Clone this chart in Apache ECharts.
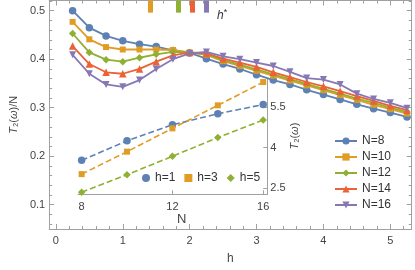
<!DOCTYPE html>
<html><head><meta charset="utf-8">
<script src="https://cdn.jsdelivr.net/npm/echarts@6/dist/echarts.min.js"></script>
<style>html,body{margin:0;padding:0;background:#fff}#c{width:415px;height:270px}</style>
</head><body><div id="c"></div>
<script>
// ---- data ----
const hValues = [0.25,0.5,0.75,1,1.25,1.5,1.75,2,2.25,2.5,2.75,3,3.25,3.5,3.75,4,4.25,4.5,4.75,5,5.25];
const N8  = [0.500,0.465,0.448,0.438,0.431,0.426,0.418,0.413,0.401,0.390,0.380,0.368,0.357,0.348,0.337,0.327,0.317,0.307,0.298,0.290,0.281];
const N10 = [0.477,0.441,0.425,0.420,0.420,0.420,0.419,0.414,0.409,0.396,0.386,0.376,0.366,0.356,0.346,0.336,0.326,0.316,0.306,0.297,0.288];
const N12 = [0.453,0.414,0.399,0.395,0.403,0.410,0.415,0.414,0.410,0.398,0.389,0.379,0.369,0.359,0.349,0.339,0.329,0.319,0.310,0.300,0.291];
const N14 = [0.427,0.390,0.373,0.370,0.380,0.395,0.408,0.414,0.412,0.401,0.393,0.384,0.373,0.363,0.353,0.344,0.334,0.324,0.314,0.304,0.295];
const N16 = [0.409,0.370,0.348,0.343,0.357,0.380,0.400,0.412,0.415,0.406,0.400,0.393,0.386,0.374,0.361,0.358,0.348,0.329,0.318,0.310,0.299];
const seriesNames = ['N=8','N=10','N=12','N=14','N=16'];
const hStar = [null, 1.41, 1.83, 2.04, 2.25];

const insetN = [8,10,12,14,16];
const T2h1 = [3.53,4.25,4.84,5.25,5.59];
const T2h3 = [3.02,3.85,4.71,5.56,6.42];
const T2h5 = [2.35,3.00,3.68,4.37,5.02];
const insetNames = ['h=1','h=3','h=5'];

const xMajor = [0,1,2,3,4,5];
const xMinor = [0.2,0.4,0.6,0.8,1.2,1.4,1.6,1.8,2.2,2.4,2.6,2.8,3.2,3.4,3.6,3.8,4.2,4.4,4.6,4.8,5.2];
const yMajor = [0.1,0.2,0.3,0.4,0.5];
const yMinor = [0.06,0.08,0.12,0.14,0.16,0.18,0.22,0.24,0.26,0.28,0.32,0.34,0.36,0.38,0.42,0.44,0.46,0.48,0.52];
const insetXTicks = [8,12,16];
const insetYTicks = [2.5,4,5.5];

// ---- style ----
const colors = ['#5E81B5','#E19C24','#8FB032','#EB6235','#8778B3'];
const symbols = ['circle','rect','diamond','triangle','triangle'];
const symRot = [0,0,0,0,180];
const symSize = [7.5,6,7.5,7.5,7];
const frame = '#a0a0a0';
const txt = '#444';
const font = 'Liberation Sans, Arial, sans-serif';

function axisPair(kind, pos, major, minor, withLabel, extra) {
  const base = {gridIndex:0, type:'value', position:pos, splitLine:{show:false}};
  Object.assign(base, kind==='x' ? {min:-0.1, max:5.32} : {min:0.05, max:0.521});
  const a = Object.assign({}, base, {
    axisLine:{show:true, onZero:false, lineStyle:{color:frame, width:1}},
    axisTick:{show:true, inside:true, length:5, customValues:major, lineStyle:{color:frame}},
    axisLabel: withLabel ? {show:true, customValues:major, color:txt, fontSize:11, fontFamily:font, margin: kind==='x'?6:4} : {show:false}
  }, extra||{});
  const b = Object.assign({}, base, {
    axisLine:{show:false, onZero:false},
    axisTick:{show:true, inside:true, length:3, customValues:minor, lineStyle:{color:frame}},
    axisLabel:{show:false}
  });
  return [a,b];
}

const xAxes = [
  ...axisPair('x','bottom',xMajor,xMinor,true,{name:'h', nameLocation:'middle', nameGap:24, nameTextStyle:{color:txt,fontSize:12,fontFamily:font}}),
  ...axisPair('x','top',xMajor,xMinor,false)
];
const yAxes = [
  ...axisPair('y','left',yMajor,yMinor,true,{
    name:'{i|T}{n|₂(}{i|ω}{n|)/N}', nameLocation:'middle', nameGap:27, nameRotate:90,
    nameTextStyle:{color:txt,fontSize:11,fontFamily:font,
      rich:{i:{fontStyle:'italic',fontSize:11,color:txt,fontFamily:font},n:{fontSize:11,color:txt,fontFamily:font}}},
    axisLabel:{show:true, customValues:yMajor, color:txt, fontSize:11, fontFamily:font, margin:4, formatter:v=>v.toFixed(1)}
  }),
  ...axisPair('y','right',yMajor,yMinor,false)
];
// inset axes
xAxes.push({
  gridIndex:1, type:'value', min:7.84, max:16.18, position:'bottom',
  splitLine:{show:false},
  axisLine:{show:true, onZero:false, lineStyle:{color:frame}},
  axisTick:{show:true, inside:true, length:4, customValues:insetXTicks, lineStyle:{color:frame}},
  axisLabel:{show:true, customValues:insetXTicks, color:txt, fontSize:11, fontFamily:font, margin:7},
  name:'N', nameLocation:'middle', nameGap:12,
  nameTextStyle:{color:txt, fontSize:13, fontFamily:font, padding:[0,0,0,18]}
});
yAxes.push({
  gridIndex:1, type:'value', min:2.275, max:6.57, position:'right',
  splitLine:{show:false},
  axisLine:{show:true, onZero:false, lineStyle:{color:frame}},
  axisTick:{show:true, inside:true, length:4, customValues:insetYTicks, lineStyle:{color:frame}},
  axisLabel:{show:true, customValues:insetYTicks, color:txt, fontSize:11, fontFamily:font, margin:3},
  name:'{i|T}{n|₂(}{i|ω}{n|)}', nameLocation:'middle', nameGap:21, nameRotate:90,
  nameTextStyle:{color:txt,fontSize:11,fontFamily:font,
    rich:{i:{fontStyle:'italic',fontSize:11,color:txt,fontFamily:font},n:{fontSize:11,color:txt,fontFamily:font}}}
});

const mainData = [N8,N10,N12,N14,N16];
const series = mainData.map((arr,k)=>{
  const s = {
    name: seriesNames[k], type:'line', xAxisIndex:0, yAxisIndex:0,
    data: hValues.map((h,i)=>[h,arr[i]]),
    symbol: symbols[k], symbolRotate: symRot[k], symbolSize: symSize[k],
    lineStyle:{color:colors[k], width:1.8}, itemStyle:{color:colors[k]},
    z: 3 + k, animation:false
  };
  if (hStar[k] != null) {
    s.markLine = {
      silent:true, symbol:['none','none'], label:{show:false}, animation:false,
      lineStyle:{color:colors[k], width:5, type:'solid', opacity:1},
      data:[[{coord:[hStar[k],0.521]},{coord:[hStar[k],0.496]}]]
    };
  }
  return s;
});
const insetData = [T2h1,T2h3,T2h5];
const insetSym = ['circle','rect','diamond'];
const insetSize = [7.5,6,7.5];
insetData.forEach((arr,k)=>{
  series.push({
    name: insetNames[k], type:'line', xAxisIndex:4, yAxisIndex:4,
    data: insetN.map((n,i)=>[n,arr[i]]),
    symbol: insetSym[k], symbolSize: insetSize[k],
    lineStyle:{color:colors[k], width:1.6, type:[6,3]}, itemStyle:{color:colors[k]},
    z:2, animation:false
  });
});

const chart = echarts.init(document.getElementById('c'), null, {renderer:'canvas'});
chart.setOption({
  backgroundColor:'#fff',
  animation:false,
  grid:[
    {left:39.3, right:3.3, top:0.5, bottom:39.3},
    {left:78, right:147.7, top:78, bottom:75.7}
  ],
  xAxis: xAxes,
  yAxis: yAxes,
  legend:[
    {data:seriesNames, orient:'vertical', left:329, top:130, itemWidth:22, itemHeight:9, itemGap:4,
     textStyle:{color:'#333', fontSize:12, fontFamily:font}, selectedMode:false},
    {data:insetNames.map((n,k)=>({name:n, icon:insetSym[k]})), orient:'horizontal', left:137, top:167,
     itemWidth:8, itemHeight:8, itemGap:9, textStyle:{color:'#333', fontSize:12, fontFamily:font}, selectedMode:false}
  ],
  graphic:[{
    type:'text', left:217, top:8,
    style:{text:'{i|h}{s|*}', fill:'#333',
      rich:{i:{fontStyle:'italic',fontSize:12,fontFamily:font,fill:'#333'},s:{fontSize:9,fontFamily:font,fill:'#333',verticalAlign:'top',padding:[0,0,6,0]}}}
  }],
  series: series
});
</script></body></html>
